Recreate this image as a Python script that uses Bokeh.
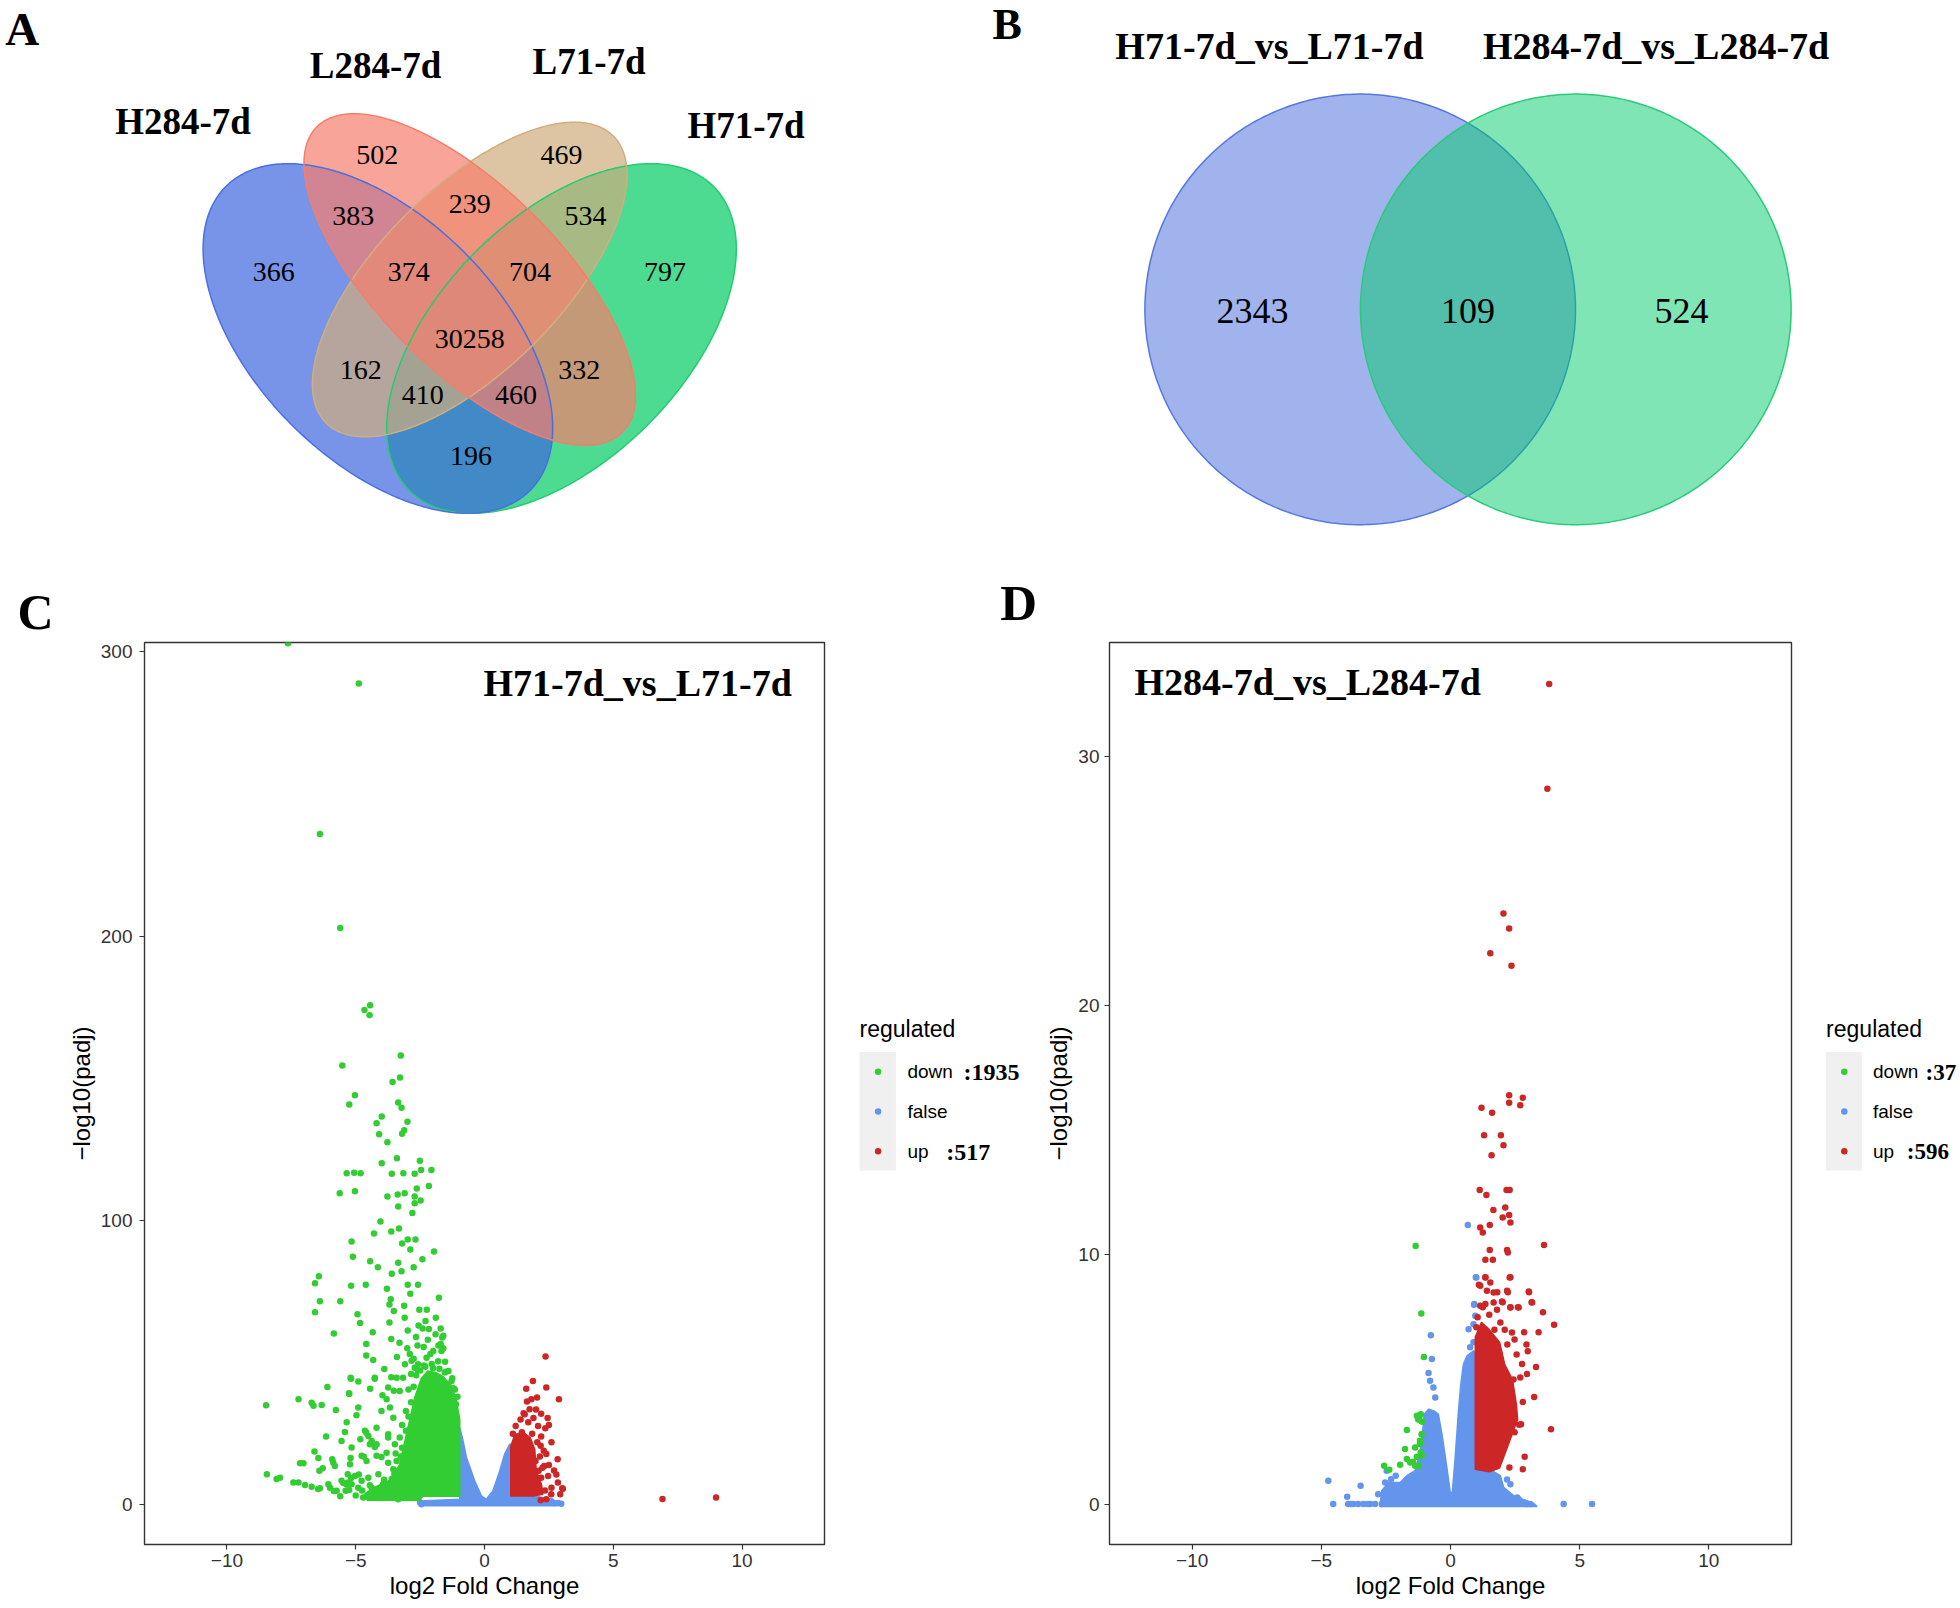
import numpy as np
from bokeh.plotting import figure
from bokeh.layouts import column, row
from bokeh.models import Range1d, FixedTicker
from bokeh.core.properties import value
from bokeh.embed import file_html
from bokeh.resources import INLINE

# ------------------------------------------------------------------ data
venn4_sets = ["H284-7d", "L284-7d", "L71-7d", "H71-7d"]
# H284 only, L284 only, L71 only, H71 only, H284&L284, L284&L71, L71&H71,
# H284&L284&L71, L284&L71&H71, all four, H284&L71, L284&H71,
# H284&L71&H71, H284&L284&H71, H284&H71
venn4_counts = [366, 502, 469, 797, 383, 239, 534, 374, 704, 30258, 162, 332, 410, 460, 196]

venn2_sets = ["H71-7d_vs_L71-7d", "H284-7d_vs_L284-7d"]
venn2_counts = [2343, 109, 524]

legend_names = ["down", "false", "up"]
c_legend_counts = [1935, None, 517]
d_legend_counts = [37, None, 596]
c_title = "H71-7d_vs_L71-7d"
d_title = "H284-7d_vs_L284-7d"

# volcano C : (log2 fold change, -log10 padj)
c_down = [
    (-7.63, 303.0), (-4.88, 288.9), (-6.39, 235.9), (-5.60, 202.9),
    (-4.44, 175.7), (-4.66, 174.0), (-4.46, 172.2),
    (-5.52, 154.5), (-3.25, 158.0), (-3.28, 150.3), (-3.57, 148.7),
    (-5.03, 144.0), (-5.25, 140.8), (-3.35, 141.5), (-3.22, 139.6),
    (-3.99, 136.6), (-4.19, 134.2), (-2.99, 134.7), (-3.12, 131.7), (-3.20, 130.5),
    (-4.09, 130.3), (-3.77, 127.5), (-3.40, 121.9), (-3.99, 120.1), (-2.51, 121.0),
    (-5.35, 116.6), (-5.06, 116.8), (-4.81, 116.6), (-3.60, 116.4), (-3.15, 116.6),
    (-2.71, 116.4), (-2.46, 117.7), (-2.06, 117.7),
    (-5.62, 109.6), (-5.03, 110.3), (-3.77, 108.4), (-3.37, 109.1), (-3.10, 109.6),
    (-2.71, 108.4), (-2.16, 112.1), (-2.63, 111.2), (-2.48, 107.0),
    (-3.35, 104.9), (-2.71, 106.0), (-2.80, 102.6), (-4.04, 99.6), (-4.29, 95.4),
    (-3.62, 96.1), (-3.32, 97.2), (-2.98, 93.3), (-2.68, 93.3), (-2.88, 89.8),
    (-3.20, 91.9), (-1.96, 89.1), (-2.41, 86.3),
    (-5.16, 92.6), (-5.11, 87.2), (-4.44, 85.6), (-4.14, 83.5), (-3.35, 85.1),
    (-2.75, 83.5), (-3.22, 82.1), (-3.60, 81.2),
    (-6.43, 80.4), (-6.58, 77.9), (-6.39, 71.6), (-6.58, 67.7),
    (-5.18, 77.0), (-4.61, 77.4), (-3.79, 76.0), (-2.98, 77.4), (-2.58, 77.4),
    (-2.88, 74.2), (-3.64, 72.3), (-3.69, 70.4), (-3.12, 70.0), (-3.52, 68.1),
    (-2.24, 68.6), (-1.77, 72.8), (-2.53, 68.6),
    (-5.60, 71.6), (-4.93, 67.0), (-4.83, 63.9), (-4.34, 60.7), (-4.59, 56.5),
    (-3.69, 64.1), (-3.62, 58.3), (-3.10, 65.8), (-2.98, 61.3), (-2.66, 59.0),
    (-2.56, 63.0), (-2.29, 64.6), (-1.89, 65.8), (-2.16, 61.8), (-1.64, 58.8),
    (-1.79, 56.0), (-2.36, 55.5), (-2.75, 51.3),
    (-5.85, 60.2), (-4.59, 52.5), (-3.40, 52.0),
    (-2.20, 58.0), (-1.90, 60.0), (-2.60, 56.0), (-3.00, 55.0), (-1.70, 62.0),
    (-2.40, 62.0), (-3.30, 57.0), (-2.90, 53.0), (-2.10, 53.0), (-1.60, 55.0),
    (-8.48, 35.0), (-8.45, 10.7), (-8.07, 9.0), (-7.94, 9.5), (-7.42, 7.8), (-7.22, 7.8),
    (-6.97, 6.9), (-6.71, 6.3), (-6.39, 5.8), (-6.06, 7.2), (-6.00, 6.0), (-5.74, 4.9),
    (-7.22, 37.1), (-6.71, 35.9), (-6.64, 34.8), (-6.32, 35.1), (-6.10, 41.4), (-5.77, 33.3),
    (-7.16, 14.6), (-7.03, 14.6), (-6.60, 18.7), (-6.45, 16.4), (-6.41, 11.9), (-6.28, 12.8),
    (-6.15, 24.0), (-5.87, 14.8), (-5.81, 13.6), (-5.91, 16.0), (-5.48, 7.6), (-5.31, 10.7),
    (-5.55, 22.4), (-5.42, 25.6), (-5.22, 14.2), (-5.16, 20.1), (-5.26, 39.2), (-5.20, 44.7),
    (-4.90, 43.3), (-4.90, 34.2), (-4.97, 31.5), (-4.82, 23.0), (-4.64, 26.0), (-4.51, 24.2),
    (-4.45, 21.3), (-4.77, 17.2), (-4.58, 15.4), (-4.19, 17.2), (-4.19, 21.3),
    (-4.26, 44.7), (-3.89, 47.7), (-4.32, 50.9), (-3.74, 41.2), (-3.80, 37.1), (-3.67, 34.2),
    (-4.00, 33.0), (-3.41, 44.7), (-3.29, 40.0), (-3.54, 30.6), (-3.74, 24.8), (-3.74, 23.6),
    (-3.48, 21.3), (-3.29, 23.6), (-4.19, 27.1), (-4.38, 22.4), (-4.26, 20.3), (-4.00, 16.8),
    (-3.80, 18.3), (-3.74, 14.8), (-3.41, 15.4), (-3.54, 12.5), (-4.12, 10.7), (-4.51, 9.5),
    (-4.77, 8.4), (-5.03, 10.1), (-5.29, 7.8), (-5.16, 7.2), (-4.71, 2.5), (-3.74, 2.5),
    (-3.35, 1.9), (-4.38, 6.0), (-4.00, 4.9), (-5.55, 8.4), (-5.39, 4.9), (-4.90, 6.0),
    (-3.16, 44.7), (-3.09, 49.4), (-2.83, 50.6), (-2.58, 49.4), (-2.71, 48.2), (-2.25, 51.7),
    (-1.99, 54.1), (-1.67, 54.1), (-1.70, 56.5), (-1.60, 59.4), (-1.54, 46.5), (-1.28, 43.5),
    (-1.11, 35.3), (-1.53, 50.3),
    (-5.35, 29.0), (-4.59, 25.3), (-5.25, 5.2), (-5.35, 7.1), (-5.18, 9.4), (-4.88, 10.6),
    (-6.46, 5.5), (-5.85, 4.8), (-4.68, 16.9), (-5.20, 16.4),
    (-5.18, 44.3), (-4.26, 44.3), (-5.25, 38.9), (-3.62, 44.8), (-4.44, 40.8), (-3.96, 38.5),
    (-3.52, 40.1), (-3.05, 33.0), (-2.95, 40.5), (-3.20, 28.0), (-2.85, 46.0), (-3.45, 18.0),
    (-3.60, 9.0), (-3.95, 7.0), (-4.40, 3.5), (-5.00, 3.2), (-5.60, 3.0), (-2.60, 47.5),
    (-2.35, 49.0), (-2.05, 49.5), (-1.80, 50.5), (-1.40, 47.0), (-1.20, 41.0), (-1.05, 38.0),
    (-2.65, 45.5), (-2.50, 47.2), (-2.30, 48.5), (-2.00, 48.0), (-1.75, 47.8), (-1.50, 46.8),
    (-1.25, 44.5), (-1.15, 40.5), (-2.75, 41.5), (-2.85, 36.0), (-2.95, 31.0), (-3.05, 26.0),
    (-3.20, 20.0), (-3.25, 17.0), (-3.50, 11.0), (-3.90, 8.8), (-4.45, 6.8), (-4.75, 5.0),
]
# outline of the solid (over-plotted) cloud of down-regulated genes in C
c_down_dense = [(-0.96, 3.0), (-0.96, 30.0), (-1.10, 37.0), (-1.30, 42.0), (-1.60, 45.0),
                (-1.90, 46.5), (-2.20, 47.0), (-2.45, 44.5), (-2.70, 38.0), (-2.90, 30.0),
                (-3.10, 22.0), (-3.30, 14.0), (-3.70, 8.5), (-4.30, 6.0), (-4.65, 3.8),
                (-4.55, 1.6), (-2.50, 1.6), (-2.40, 3.0)]
c_false_dense = [(-0.96, 27.1), (-0.83, 22.4), (-0.70, 16.6), (-0.38, 8.4), (-0.12, 3.1),
                 (0.07, 1.9), (0.33, 4.9), (0.59, 11.9), (0.78, 17.8), (0.98, 21.3),
                 (1.04, 21.3), (1.04, 3.1), (1.95, 3.1), (2.59, 1.9), (2.98, 0.2),
                 (2.72, -0.4), (-2.45, -0.4), (-2.51, 1.3), (-0.96, 1.9)]
c_false = [(1.95, 1.0), (2.20, 0.7), (2.59, 1.2), (2.80, 0.5), (2.98, 0.3), (-2.50, 0.8),
           (-2.45, 0.2), (2.72, 0.6), (2.85, 0.6)]
c_up = [(2.37, 52.1), (1.88, 43.5), (2.40, 41.2), (1.62, 40.8), (2.89, 37.1), (2.04, 37.7),
        (1.82, 37.1), (1.65, 36.3), (1.75, 33.6), (1.56, 31.8), (1.21, 27.7), (2.36, 26.9),
        (2.08, 27.7), (2.18, 20.7), (2.40, 17.8), (1.98, 15.4), (2.84, 16.0), (2.32, 13.6),
        (2.10, 11.9), (2.47, 10.1), (2.85, 7.8), (3.02, 5.8), (2.94, 3.7), (2.59, 3.7),
        (2.40, 1.9), (2.18, 1.6), (6.91, 2.0), (8.99, 2.5), (1.30, 24.0), (1.45, 25.5),
        (1.70, 29.0), (1.90, 30.5), (2.20, 32.0), (2.50, 28.0), (2.20, 24.0), (2.60, 22.0),
        (2.30, 19.0), (2.50, 14.0), (2.70, 12.0), (2.20, 9.5), (2.60, 6.0), (2.35, 5.0),
        (1.40, 30.0), (2.00, 33.5), (2.45, 30.5), (2.79, 10.6), (3.04, 5.6), (1.52, 32.2),
        (1.10, 25.0), (1.85, 25.0), (2.05, 22.0), (2.15, 17.0), (2.25, 13.0)]
c_up_dense = [(1.02, 3.1), (1.02, 20.5), (1.17, 24.5), (1.50, 25.5), (1.78, 23.5), (1.95, 19.5),
              (2.01, 11.9), (2.21, 7.2), (2.27, 3.7), (1.95, 3.1)]

# volcano D
d_false_dense = [(-2.73, -0.10), (-2.66, 0.54), (-2.40, 0.87), (-1.95, 0.87), (-1.69, 1.14),
                 (-1.37, 1.34), (-1.18, 2.07), (-1.05, 3.21), (-1.02, 3.61), (-0.85, 3.81),
                 (-0.66, 3.75), (-0.47, 3.61), (-0.33, 2.81), (-0.14, 1.47), (-0.01, 0.47),
                 (0.07, 0.47), (0.18, 1.87), (0.31, 3.75), (0.40, 4.82), (0.50, 5.62),
                 (0.64, 5.95), (0.89, 6.15), (1.02, 6.02), (1.02, 1.47), (1.61, 1.34),
                 (1.93, 1.14), (2.06, 0.67), (2.44, 0.34), (3.22, 0.03), (3.35, -0.10)]
d_false = [(-4.73, 0.94), (-4.54, 0.0), (-3.96, 0.0), (-3.76, 0.0), (-3.57, 0.0), (-3.37, 0.0),
           (-3.11, 0.0), (-2.92, 0.0), (-2.66, 0.0), (-3.48, 0.74), (-2.53, 0.87), (-2.47, 1.34),
           (-2.12, 1.14), (4.38, 0.0), (5.48, 0.0), (2.64, 0.2), (2.96, 0.0), (3.09, 0.0),
           (2.19, 0.99), (2.32, 0.8), (2.58, 0.27), (-0.76, 6.78), (-0.72, 5.82), (-0.85, 5.26),
           (-0.79, 4.95), (-0.66, 4.68), (-0.59, 4.28), (0.67, 11.2), (1.00, 9.09), (0.92, 8.03),
           (0.96, 7.56), (0.70, 7.02), (0.89, 7.22), (0.89, 6.49), (0.76, 6.29), (0.98, 9.1),
           (0.91, 8.0), (-3.85, 0.0), (-3.20, 0.0), (-4.00, 0.3), (-2.80, 0.4), (-2.30, 1.0)]
d_down = [(-1.35, 10.36), (-1.13, 7.65), (-1.03, 5.9), (-1.30, 3.55), (-1.21, 3.48),
          (-1.15, 3.61), (-1.69, 2.97), (-1.76, 2.21), (-1.37, 2.27), (-1.18, 2.41),
          (-1.15, 2.07), (-1.69, 1.81), (-1.56, 1.67), (-1.37, 1.54), (-1.22, 1.54),
          (-1.95, 1.58), (-2.57, 1.54), (-2.37, 1.38), (-1.11, 1.94), (-1.18, 2.54),
          (-1.25, 3.40), (-1.10, 3.30), (-1.12, 2.80), (-1.30, 1.90), (-1.45, 1.70)]
d_up = [(3.82, 32.9), (3.75, 28.7), (2.05, 23.7), (2.27, 23.1), (1.54, 22.1), (2.36, 21.6),
        (2.27, 16.4), (2.80, 16.3), (2.27, 16.1), (2.70, 16.0), (1.20, 15.9), (1.61, 15.7),
        (1.30, 14.8), (1.95, 14.8), (2.05, 14.4), (1.59, 14.0), (1.13, 12.6), (1.39, 12.4),
        (2.17, 12.6), (2.29, 12.6), (1.66, 11.8), (2.12, 11.9), (2.27, 11.6), (2.02, 11.5),
        (2.32, 11.3), (1.52, 11.2), (1.15, 11.1), (1.25, 10.9), (3.62, 10.4), (1.52, 10.2),
        (2.19, 10.2), (2.22, 10.1), (1.35, 9.8), (1.64, 9.8), (2.32, 9.1), (1.35, 9.1),
        (3.04, 8.5), (1.10, 8.8), (1.81, 8.5), (2.22, 8.5), (3.14, 8.1), (2.02, 8.1),
        (2.61, 7.9), (2.32, 7.9), (3.58, 7.7), (4.01, 7.2), (3.41, 6.9), (2.85, 6.9),
        (2.94, 6.4), (3.31, 5.5), (3.24, 4.3), (2.80, 4.1), (3.89, 3.0), (2.87, 1.9),
        (2.80, 1.4), (2.73, 3.2), (2.44, 5.0), (2.56, 6.0), (2.48, 6.6),
        (1.15, 7.96), (1.35, 8.03), (1.67, 8.09), (1.99, 8.13), (2.32, 7.89), (2.64, 7.89),
        (3.16, 8.09), (2.99, 6.13), (2.77, 5.62), (2.70, 5.08), (2.96, 5.22), (2.66, 3.18),
        (2.48, 2.88), (2.28, 1.47), (1.93, 7.29), (2.38, 6.89), (1.93, 5.82), (1.90, 6.02),
        (2.19, 4.55), (1.99, 4.01), (2.44, 3.75), (1.41, 8.56), (1.67, 8.49), (2.19, 8.56),
        (3.03, 8.53), (1.15, 8.76), (1.35, 9.09), (2.29, 9.09), (1.54, 8.89),
        (1.05, 7.5), (1.20, 6.9), (1.50, 7.6), (1.70, 7.0), (2.10, 7.0), (1.25, 7.9),
        (1.80, 7.8), (2.20, 6.4), (1.60, 6.6), (1.00, 7.1)]
d_up_dense = [(0.96, 1.4), (0.96, 6.7), (1.20, 7.3), (1.50, 7.0), (1.90, 6.5), (2.10, 5.6),
              (2.40, 5.0), (2.55, 4.0), (2.60, 3.4), (2.35, 2.7), (2.10, 2.0), (1.90, 1.45),
              (1.50, 1.3)]

# ------------------------------------------------------------------ style / layout
SERIF = "Liberation Serif"
SANS = "Liberation Sans"
GREEN = "#32CD32"
BLUE = "#6495ED"
RED = "#CD2626"
PT = 6.5

# page geometry (pixels of the 1960x1608 page, y downwards)
venn4_label_xy = [(273.2, 271.4), (376.8, 154.5), (561.1, 154.5), (664.6, 271.4),
                  (352.8, 215.9), (469.3, 203.7), (585.1, 215.9), (408.3, 271.4),
                  (529.6, 271.4), (469.3, 338.0), (360.2, 369.5), (578.8, 369.5),
                  (422.3, 394.3), (515.6, 394.3), (470.4, 455.7)]
venn4_set_xy = [(182.5, 120.9), (375.0, 64.8), (588.5, 60.9), (745.5, 125.1)]
venn4_shapes = [  # cx, cy, a, b, angle, fill rgb, outline   (in set order)
    (377.4, 338.0, 215.0, 122.0, np.pi / 4, (62, 102, 222), "#4A6FE0"),
    (469.2, 279.0, 216.0, 91.0, np.pi / 4, (246, 125, 108), "#F37E6C"),
    (469.2, 279.0, 203.0, 91.0, -np.pi / 4, (206, 172, 126), "#D1AE80"),
    (561.0, 338.0, 215.0, 122.0, -np.pi / 4, (0, 204, 99), "#22CC70"),
]
venn4_draw_order = [3, 0, 2, 1]
venn2_shapes = [
    (1359.7, 308.9, 215.3, (65, 103, 219), "#5577E0"),
    (1575.3, 308.9, 215.3, (1, 203, 107), "#2ACB78"),
]
venn2_label_xy = [(1251.9, 310.0), (1467.5, 310.0), (1681.0, 310.0)]
venn2_set_xy = [(1269.0, 45.6), (1655.6, 45.6)]


def ellipse_outline(cx, cy, a, b, ang, n=400):
    t = np.linspace(0, 2 * np.pi, n)
    ex, ey = a * np.cos(t), b * np.sin(t)
    return cx + ex * np.cos(ang) - ey * np.sin(ang), cy + ex * np.sin(ang) + ey * np.cos(ang)


def txt(p, xs, ys, texts, size, font=SERIF, style="normal", align="center", color="black"):
    p.text(x=xs, y=ys, text=texts, text_font=value(font), text_font_size=value(f"{size}px"),
           text_font_style=style, text_align=align, text_baseline="middle", text_color=color)


def blank(width, height, xr, yr, top=0, bottom=0):
    p = figure(width=width, height=height, x_range=Range1d(*xr), y_range=Range1d(*yr),
               x_axis_location=None, y_axis_location=None, toolbar_location=None,
               output_backend="svg", min_border=0)
    p.min_border_top = top
    p.min_border_bottom = bottom
    p.grid.visible = False
    p.outline_line_color = None
    return p


# ------------------------------------------------------------------ top: Venn A and B
TOP_H = 641
top = blank(1960, TOP_H, (0, 1960), (TOP_H, 0))

for i in venn4_draw_order:
    cx, cy, a, b, ang, rgb, _ = venn4_shapes[i]
    ex, ey = ellipse_outline(cx, cy, a, b, ang)
    top.patch(ex, ey, fill_color="#%02x%02x%02x" % rgb, fill_alpha=0.7, line_color=None)
for i in venn4_draw_order:
    cx, cy, a, b, ang, _, lc_ = venn4_shapes[i]
    ex, ey = ellipse_outline(cx, cy, a, b, ang)
    top.patch(ex, ey, fill_color=None, line_color=lc_, line_width=1.5)

txt(top, [p[0] for p in venn4_label_xy], [p[1] for p in venn4_label_xy],
    [str(v) for v in venn4_counts], 28)
txt(top, [p[0] for p in venn4_set_xy], [p[1] for p in venn4_set_xy], venn4_sets, 37,
    style="bold")

for cx, cy, r, rgb, lc_ in venn2_shapes:
    ex, ey = ellipse_outline(cx, cy, r, r, 0.0)
    top.patch(ex, ey, fill_color="#%02x%02x%02x" % rgb, fill_alpha=0.5,
              line_color=lc_, line_width=1.5)
txt(top, [p[0] for p in venn2_label_xy], [p[1] for p in venn2_label_xy],
    [str(v) for v in venn2_counts], 36)
txt(top, [p[0] for p in venn2_set_xy], [p[1] for p in venn2_set_xy], venn2_sets, 38,
    style="bold")

# panel letters
txt(top, [21.7], [28.7], ["A"], 47, style="bold")
txt(top, [1006.6], [24.1], ["B"], 44, style="bold")
txt(top, [35.1], [611.4], ["C"], 50, style="bold")
txt(top, [1018.2], [602.1], ["D"], 51, style="bold")

# ------------------------------------------------------------------ volcano plots
ROW_H = 1608 - TOP_H       # 967
B_TOP, B_BOT = 1, 64       # frame: page y 642 .. 1544
FRAME_TOP = TOP_H + B_TOP
FRAME_BOT = 1608 - B_BOT


def volcano(width, left, right, yrange, yticks, ylab_standoff):
    p = figure(width=width, height=ROW_H, x_range=Range1d(-13.2, 13.2),
               y_range=Range1d(*yrange), toolbar_location=None, output_backend="svg",
               min_border_left=left, min_border_right=right, min_border_top=B_TOP,
               min_border_bottom=B_BOT)
    p.grid.visible = False
    p.outline_line_color = "#333333"
    p.outline_line_width = 1.4
    p.axis.axis_line_color = None
    p.axis.major_tick_out = 5
    p.axis.major_tick_in = 0
    p.axis.minor_tick_line_color = None
    p.axis.major_tick_line_color = "#333333"
    p.axis.major_tick_line_width = 1.2
    p.axis.major_label_text_font = SANS
    p.axis.major_label_text_font_size = "19px"
    p.axis.major_label_text_color = "#333333"
    p.axis.axis_label_text_font = SANS
    p.axis.axis_label_text_font_size = "24px"
    p.axis.axis_label_text_font_style = "normal"
    p.axis.axis_label_text_color = "black"
    p.xaxis.ticker = FixedTicker(ticks=[-10, -5, 0, 5, 10])
    p.xaxis.major_label_overrides = {-10: "\u221210", -5: "\u22125"}
    p.xaxis.major_label_standoff = 4
    p.xaxis.axis_label_standoff = 2
    p.xaxis.axis_label = "log2 Fold Change"
    p.yaxis.ticker = FixedTicker(ticks=yticks)
    p.yaxis.major_label_standoff = ylab_standoff
    p.yaxis.axis_label_standoff = 3
    p.yaxis.axis_label = "\u2212log10(padj)"
    return p


def xs(pts):
    return [q[0] for q in pts]


def ys(pts):
    return [q[1] for q in pts]


pc = volcano(850, 144, 26, (-14.0, 303.3), [0, 100, 200, 300], 7)
pc.patch(xs(c_false_dense), ys(c_false_dense), fill_color=BLUE, line_color=BLUE, line_width=1.5)
pc.scatter(xs(c_false), ys(c_false), size=PT, color=BLUE, line_width=0)
pc.patch(xs(c_down_dense), ys(c_down_dense), fill_color=GREEN, line_color=GREEN, line_width=1.5)
pc.scatter(xs(c_down), ys(c_down), size=PT, color=GREEN, line_width=0)
pc.patch(xs(c_up_dense), ys(c_up_dense), fill_color=RED, line_color=RED, line_width=1.5)
pc.scatter(xs(c_up), ys(c_up), size=PT, color=RED, line_width=0)
txt(pc, [11.93], [289.2], [c_title], 38, style="bold", align="right")

pd = volcano(790, 89, 19, (-1.62, 34.57), [0, 10, 20, 30], 5)
pd.patch(xs(d_false_dense), ys(d_false_dense), fill_color=BLUE, line_color=BLUE, line_width=1.5)
pd.scatter(xs(d_false), ys(d_false), size=PT, color=BLUE, line_width=0)
pd.scatter(xs(d_down), ys(d_down), size=PT, color=GREEN, line_width=0)
pd.patch(xs(d_up_dense), ys(d_up_dense), fill_color=RED, line_color=RED, line_width=1.5)
pd.scatter(xs(d_up), ys(d_up), size=PT, color=RED, line_width=0)
txt(pd, [-12.23], [33.0], [d_title], 38, style="bold", align="left")


# ------------------------------------------------------------------ legends
def legend_panel(width, x0, box_l, box_r, dot_x, lab_x, count_x, counts, count_size):
    p = blank(width, ROW_H, (x0, x0 + width), (FRAME_BOT, FRAME_TOP), top=B_TOP, bottom=B_BOT)
    p.quad(left=[box_l], right=[box_r], top=[1051.4], bottom=[1170.0],
           fill_color="#F0F0F0", line_color=None)
    key_y = [1071.2, 1111.0, 1150.8]
    p.scatter([dot_x] * 3, key_y, size=PT, color=[GREEN, BLUE, RED], line_width=0)
    txt(p, [box_l], [1028.0], ["regulated"], 23, font=SANS, align="left")
    txt(p, [lab_x] * 3, key_y, legend_names, 19, font=SANS, align="left")
    cx, cy, ct = [], [], []
    for k, c in enumerate(counts):
        if c is not None:
            cx.append(count_x[k])
            cy.append(key_y[k] + 0.5)
            ct.append(":" + str(c))
    txt(p, cx, cy, ct, count_size, style="bold", align="left")
    return p


lc = legend_panel(170, 850, 859.0, 895.4, 877.6, 906.9, [963.0, 0, 945.8], c_legend_counts, 24)
ld = legend_panel(150, 1810, 1825.6, 1861.3, 1843.8, 1872.5, [1925.0, 0, 1906.3],
                  d_legend_counts, 23)

layout = column(top, row(pc, lc, pd, ld))
open("out.html", "w").write(file_html(layout, INLINE))
